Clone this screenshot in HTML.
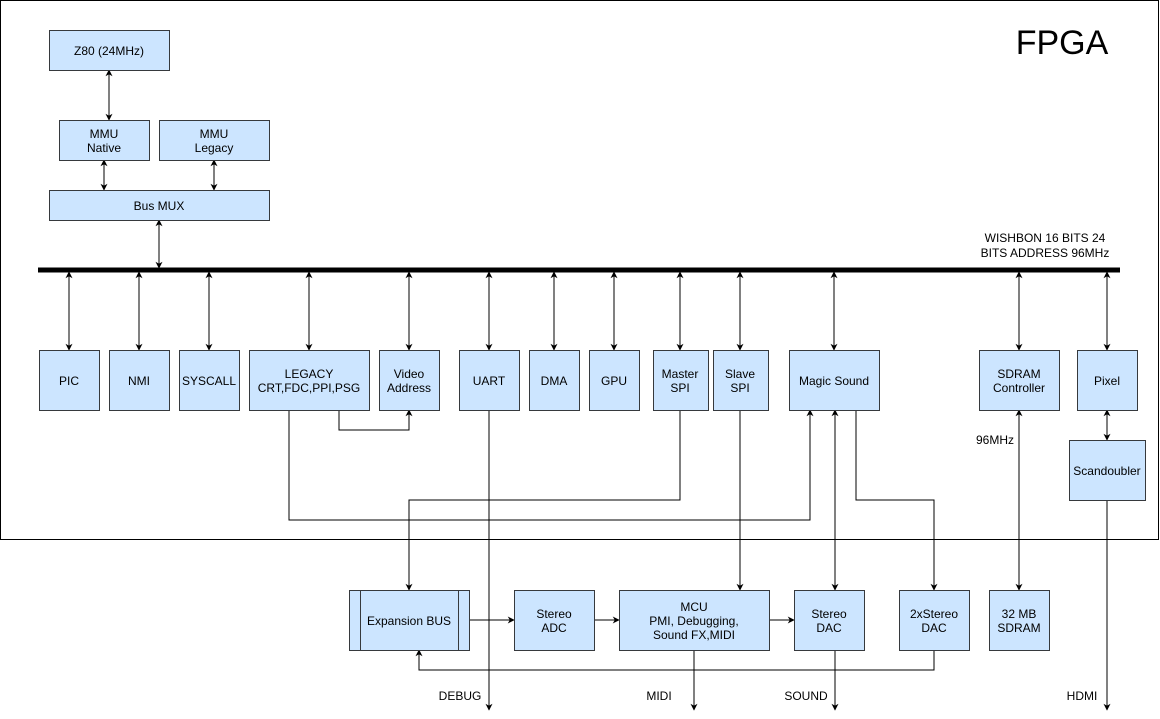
<!DOCTYPE html>
<html><head><style>body{margin:0;background:#fff}svg{display:block}text{font-family:"Liberation Sans",Arial,sans-serif;font-size:12px;fill:#000}</style></head><body>
<svg width="1160" height="719" viewBox="0 0 1160 719" xmlns="http://www.w3.org/2000/svg">
<defs><marker id="a" viewBox="0 0 10 10" refX="9" refY="5" markerWidth="7" markerHeight="7" orient="auto-start-reverse"><path d="M0,0L10,5L0,10L3,5z" fill="#000"/></marker></defs>
<rect x="0.5" y="0.5" width="1158" height="539" fill="#fff" stroke="#000"/>
<text x="1062" y="54" font-size="34" text-anchor="middle" style="font-size:34px">FPGA</text>
<text x="1045" y="242" text-anchor="middle" style="font-size:12px">WISHBON 16 BITS 24</text>
<text x="1045" y="257" text-anchor="middle" style="font-size:12px">BITS ADDRESS 96MHz</text>
<line x1="38" y1="270" x2="1120" y2="270" stroke="#000" stroke-width="5"/>
<g stroke="#000" stroke-width="1" fill="none">
<line x1="109" y1="70" x2="109" y2="120" marker-start="url(#a)" marker-end="url(#a)"/>
<line x1="104" y1="160" x2="104" y2="190" marker-start="url(#a)" marker-end="url(#a)"/>
<line x1="214" y1="160" x2="214" y2="190" marker-start="url(#a)" marker-end="url(#a)"/>
<line x1="159" y1="220" x2="159" y2="268" marker-start="url(#a)" marker-end="url(#a)"/>
<line x1="69" y1="272" x2="69" y2="350" marker-start="url(#a)" marker-end="url(#a)"/>
<line x1="139" y1="272" x2="139" y2="350" marker-start="url(#a)" marker-end="url(#a)"/>
<line x1="209" y1="272" x2="209" y2="350" marker-start="url(#a)" marker-end="url(#a)"/>
<line x1="309" y1="272" x2="309" y2="350" marker-start="url(#a)" marker-end="url(#a)"/>
<line x1="409" y1="272" x2="409" y2="350" marker-start="url(#a)" marker-end="url(#a)"/>
<line x1="489" y1="272" x2="489" y2="350" marker-start="url(#a)" marker-end="url(#a)"/>
<line x1="554" y1="272" x2="554" y2="350" marker-start="url(#a)" marker-end="url(#a)"/>
<line x1="614" y1="272" x2="614" y2="350" marker-start="url(#a)" marker-end="url(#a)"/>
<line x1="680" y1="272" x2="680" y2="350" marker-start="url(#a)" marker-end="url(#a)"/>
<line x1="740" y1="272" x2="740" y2="350" marker-start="url(#a)" marker-end="url(#a)"/>
<line x1="834" y1="272" x2="834" y2="350" marker-start="url(#a)" marker-end="url(#a)"/>
<line x1="1019" y1="272" x2="1019" y2="350" marker-start="url(#a)" marker-end="url(#a)"/>
<line x1="1107" y1="272" x2="1107" y2="350" marker-start="url(#a)" marker-end="url(#a)"/>
<polyline points="289,410 289,520 810,520 810,410" marker-end="url(#a)"/>
<polyline points="339,410 339,430 409,430 409,410" marker-end="url(#a)"/>
<polyline points="680,410 680,500 409,500 409,590" marker-end="url(#a)"/>
<line x1="489" y1="410" x2="489" y2="710" marker-end="url(#a)"/>
<line x1="740" y1="410" x2="740" y2="590" marker-end="url(#a)"/>
<line x1="835" y1="410" x2="835" y2="590" marker-start="url(#a)" marker-end="url(#a)"/>
<polyline points="856,410 856,500 934,500 934,590" marker-end="url(#a)"/>
<line x1="1019" y1="410" x2="1019" y2="590" marker-start="url(#a)" marker-end="url(#a)"/>
<line x1="1107" y1="410" x2="1107" y2="440" marker-start="url(#a)" marker-end="url(#a)"/>
<line x1="1107" y1="500" x2="1107" y2="710" marker-end="url(#a)"/>
<line x1="469" y1="620" x2="514" y2="620" marker-end="url(#a)"/>
<line x1="594" y1="620" x2="619" y2="620" marker-end="url(#a)"/>
<line x1="769" y1="620" x2="794" y2="620" marker-end="url(#a)"/>
<polyline points="934,650 934,670 419,670 419,650" marker-end="url(#a)"/>
<line x1="694" y1="650" x2="694" y2="710" marker-end="url(#a)"/>
<line x1="835" y1="650" x2="835" y2="710" marker-end="url(#a)"/>
</g>
<g fill="#cce5ff" stroke="#36393d">
<rect x="49.5" y="30.5" width="120" height="40"/>
<rect x="59.5" y="120.5" width="90" height="40"/>
<rect x="159.5" y="120.5" width="110" height="40"/>
<rect x="49.5" y="190.5" width="220" height="30"/>
<rect x="39.5" y="350.5" width="60" height="60"/>
<rect x="109.5" y="350.5" width="60" height="60"/>
<rect x="179.5" y="350.5" width="60" height="60"/>
<rect x="249.5" y="350.5" width="120" height="60"/>
<rect x="379.5" y="350.5" width="60" height="60"/>
<rect x="459.5" y="350.5" width="60" height="60"/>
<rect x="529.5" y="350.5" width="50" height="60"/>
<rect x="589.5" y="350.5" width="50" height="60"/>
<rect x="653.5" y="350.5" width="55" height="60"/>
<rect x="713.5" y="350.5" width="55" height="60"/>
<rect x="789.5" y="350.5" width="90" height="60"/>
<rect x="979.5" y="350.5" width="80" height="60"/>
<rect x="1077.5" y="350.5" width="60" height="60"/>
<rect x="1069.5" y="440.5" width="76" height="60"/>
<rect x="349.5" y="590.5" width="120" height="60"/>
<rect x="514.5" y="590.5" width="80" height="60"/>
<rect x="619.5" y="590.5" width="150" height="60"/>
<rect x="794.5" y="590.5" width="70" height="60"/>
<rect x="899.5" y="590.5" width="70" height="60"/>
<rect x="989.5" y="590.5" width="60" height="60"/>
</g>
<line x1="360.5" y1="591" x2="360.5" y2="650" stroke="#36393d"/>
<line x1="458.5" y1="591" x2="458.5" y2="650" stroke="#36393d"/>
<g text-anchor="middle">
<text x="109" y="55">Z80 (24MHz)</text>
<text x="104" y="138">MMU</text><text x="104" y="152">Native</text>
<text x="214" y="138">MMU</text><text x="214" y="152">Legacy</text>
<text x="159" y="210">Bus MUX</text>
<text x="69" y="385">PIC</text>
<text x="139" y="385">NMI</text>
<text x="209" y="385">SYSCALL</text>
<text x="309" y="378">LEGACY</text><text x="309" y="392">CRT,FDC,PPI,PSG</text>
<text x="409" y="378">Video</text><text x="409" y="392">Address</text>
<text x="489" y="385">UART</text>
<text x="554" y="385">DMA</text>
<text x="614" y="385">GPU</text>
<text x="680" y="378">Master</text><text x="680" y="392">SPI</text>
<text x="740" y="378">Slave</text><text x="740" y="392">SPI</text>
<text x="834" y="385">Magic Sound</text>
<text x="1019" y="378">SDRAM</text><text x="1019" y="392">Controller</text>
<text x="1107" y="385">Pixel</text>
<text x="1107" y="475">Scandoubler</text>
<text x="995" y="444">96MHz</text>
<text x="409" y="625">Expansion BUS</text>
<text x="554" y="618">Stereo</text><text x="554" y="632">ADC</text>
<text x="694" y="611">MCU</text><text x="694" y="625">PMI, Debugging,</text><text x="694" y="639">Sound FX,MIDI</text>
<text x="829" y="618">Stereo</text><text x="829" y="632">DAC</text>
<text x="934" y="618">2xStereo</text><text x="934" y="632">DAC</text>
<text x="1019" y="618">32 MB</text><text x="1019" y="632">SDRAM</text>
<text x="460" y="700">DEBUG</text>
<text x="659" y="700">MIDI</text>
<text x="806" y="700">SOUND</text>
<text x="1082" y="700">HDMI</text>
</g>
</svg>
</body></html>
